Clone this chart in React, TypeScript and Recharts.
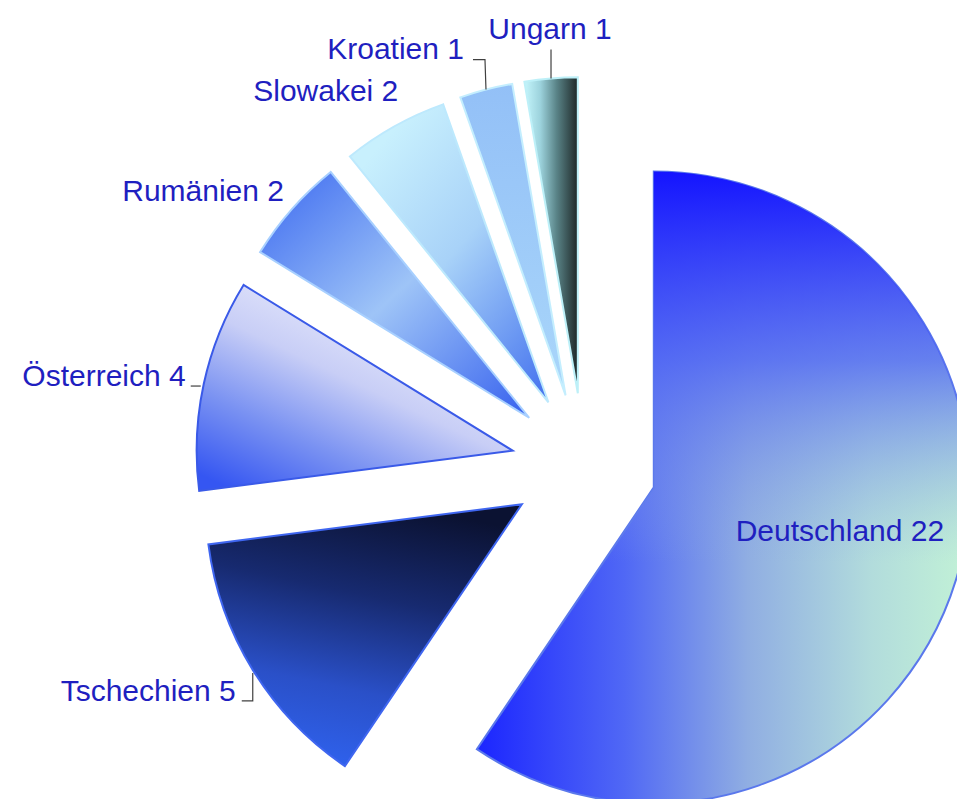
import { PieChart, Pie, Cell } from "recharts";

const countries = ["Deutschland", "Tschechien", "Österreich", "Rumänien", "Slowakei", "Kroatien", "Ungarn"];
const counts = [22, 5, 4, 2, 2, 1, 1];

const data = countries.map((name, i) => ({ name, value: counts[i] }));
const total = counts.reduce((a, b) => a + b, 0);

const CX = 579;
const CY = 461;
const RADIUS = 316;
const EXPLODE = 73;

const GRADIENTS = ["g-de", "g-cz", "g-at", "g-ro", "g-sk", "g-hr", "g-hu"];
const STROKES = ["#5a78ec", "#3f66f0", "#3a5ae8", "#a8d0ff", "#bde9fd", "#c4eefe", "#bdf0f8"];

// label placement relative to the outer middle point of each slice
const LABEL_LAYOUT: { dx: number; dy: number; anchor: "start" | "middle" | "end"; leader: number[][] }[] = [
  { dx: -116, dy: -39, anchor: "middle", leader: [] },
  { dx: -17, dy: 31, anchor: "end", leader: [[0, 3], [0, 31], [-11, 31]] },
  { dx: -18, dy: 2, anchor: "end", leader: [[-3, 2], [-13, 2]] },
  { dx: -8, dy: -8, anchor: "end", leader: [] },
  { dx: 4, dy: -25, anchor: "end", leader: [] },
  { dx: -22, dy: -31, anchor: "end", leader: [[0, 0], [-1, -30], [-13, -30]] },
  { dx: -1, dy: -39, anchor: "middle", leader: [[0, 0], [0, -29]] },
];

// explode each slice along its own middle angle
const offsets = counts.map((_, i) => {
  const before = counts.slice(0, i).reduce((a, b) => a + b, 0);
  const mid = ((before + counts[i] / 2) / total) * 2 * Math.PI;
  return { x: CX + EXPLODE * Math.sin(mid), y: CY - EXPLODE * Math.cos(mid) };
});

const renderLabel = (target: number) => (props: any) => {
  if (props.index !== target) return <g />;
  const { cx, cy, midAngle, outerRadius, name, value } = props;
  const rad = (Math.PI / 180) * midAngle;
  const ox = cx + outerRadius * Math.cos(rad);
  const oy = cy - outerRadius * Math.sin(rad);
  const lay = LABEL_LAYOUT[target];
  const pts = lay.leader.map(([x, y]) => `${ox + x},${oy + y}`).join(" ");
  return (
    <g>
      {lay.leader.length > 0 && <polyline points={pts} fill="none" stroke="#404040" strokeWidth={1.2} />}
      <text
        x={ox + lay.dx}
        y={oy + lay.dy}
        textAnchor={lay.anchor}
        fill="#1f1fc0"
        fontSize={30}
        fontFamily="'Liberation Sans', Arial, sans-serif"
      >
        {`${name} ${value}`}
      </text>
    </g>
  );
};

const App = () => {
  return (
    <div style={{ position: "fixed", left: 0, top: 0, width: 957, height: 799, overflow: "hidden", background: "#fff" }}>
      <PieChart width={957} height={799}>
        <defs>
          <linearGradient id="g-de" x1="0" y1="0" x2="1" y2="0">
            <stop offset="0" stopColor="#1b25ff" />
            <stop offset="0.3" stopColor="#5068f5" />
            <stop offset="0.55" stopColor="#90aee2" />
            <stop offset="0.8" stopColor="#b2dcdc" />
            <stop offset="1" stopColor="#c2f2d6" />
          </linearGradient>
          <linearGradient id="g-de-top" x1="0" y1="0" x2="0" y2="1">
            <stop offset="0" stopColor="#1414ff" stopOpacity={1} />
            <stop offset="0.3" stopColor="#5066f4" stopOpacity={0.8} />
            <stop offset="0.62" stopColor="#90aae4" stopOpacity={0} />
          </linearGradient>
          <linearGradient id="g-cz" x1="0.6" y1="0" x2="0.35" y2="1">
            <stop offset="0" stopColor="#0b1232" />
            <stop offset="0.35" stopColor="#172a70" />
            <stop offset="0.7" stopColor="#2a50c8" />
            <stop offset="1" stopColor="#2f62ee" />
          </linearGradient>
          <linearGradient id="g-at" x1="0.05" y1="0.95" x2="0.6" y2="0.2">
            <stop offset="0" stopColor="#3556f2" />
            <stop offset="0.35" stopColor="#7a92f2" />
            <stop offset="0.7" stopColor="#c8cef6" />
            <stop offset="1" stopColor="#e2e5fb" />
          </linearGradient>
          <linearGradient id="g-ro" x1="0" y1="0" x2="1" y2="1">
            <stop offset="0" stopColor="#3b68f0" />
            <stop offset="0.5" stopColor="#9ec4f7" />
            <stop offset="1" stopColor="#3560ee" />
          </linearGradient>
          <linearGradient id="g-sk" x1="0.2" y1="0.1" x2="0.9" y2="1">
            <stop offset="0" stopColor="#c8f0fd" />
            <stop offset="0.45" stopColor="#a8d2f8" />
            <stop offset="1" stopColor="#4a78ef" />
          </linearGradient>
          <linearGradient id="g-hr" x1="0" y1="0" x2="0" y2="1">
            <stop offset="0" stopColor="#93c0f7" />
            <stop offset="1" stopColor="#a9d6fa" />
          </linearGradient>
          <linearGradient id="g-hu" x1="0" y1="0" x2="1" y2="0">
            <stop offset="0" stopColor="#c5f6fc" />
            <stop offset="0.3" stopColor="#9cd2dc" />
            <stop offset="0.6" stopColor="#5a8488" />
            <stop offset="1" stopColor="#1e2828" />
          </linearGradient>
        </defs>
        {counts.map((_, target) => (
          <Pie
            key={`pie-${target}`}
            data={data}
            dataKey="value"
            nameKey="name"
            cx={offsets[target].x}
            cy={offsets[target].y}
            outerRadius={RADIUS}
            startAngle={90}
            endAngle={-270}
            label={target === 0 ? false : renderLabel(target)}
            labelLine={false}
            isAnimationActive={false}
          >
            {data.map((_, i) => (
              <Cell
                key={`cell-${i}`}
                fill={i === target ? `url(#${GRADIENTS[i]})` : "none"}
                stroke={i === target ? STROKES[i] : "none"}
                strokeWidth={2}
              />
            ))}
          </Pie>
        ))}
        <Pie
          data={data}
          dataKey="value"
          nameKey="name"
          cx={offsets[0].x}
          cy={offsets[0].y}
          outerRadius={RADIUS}
          startAngle={90}
          endAngle={-270}
          label={renderLabel(0)}
          labelLine={false}
          isAnimationActive={false}
        >
          {data.map((_, i) => (
            <Cell key={`top-${i}`} fill={i === 0 ? "url(#g-de-top)" : "none"} stroke="none" />
          ))}
        </Pie>
      </PieChart>
    </div>
  );
};

export default App;
